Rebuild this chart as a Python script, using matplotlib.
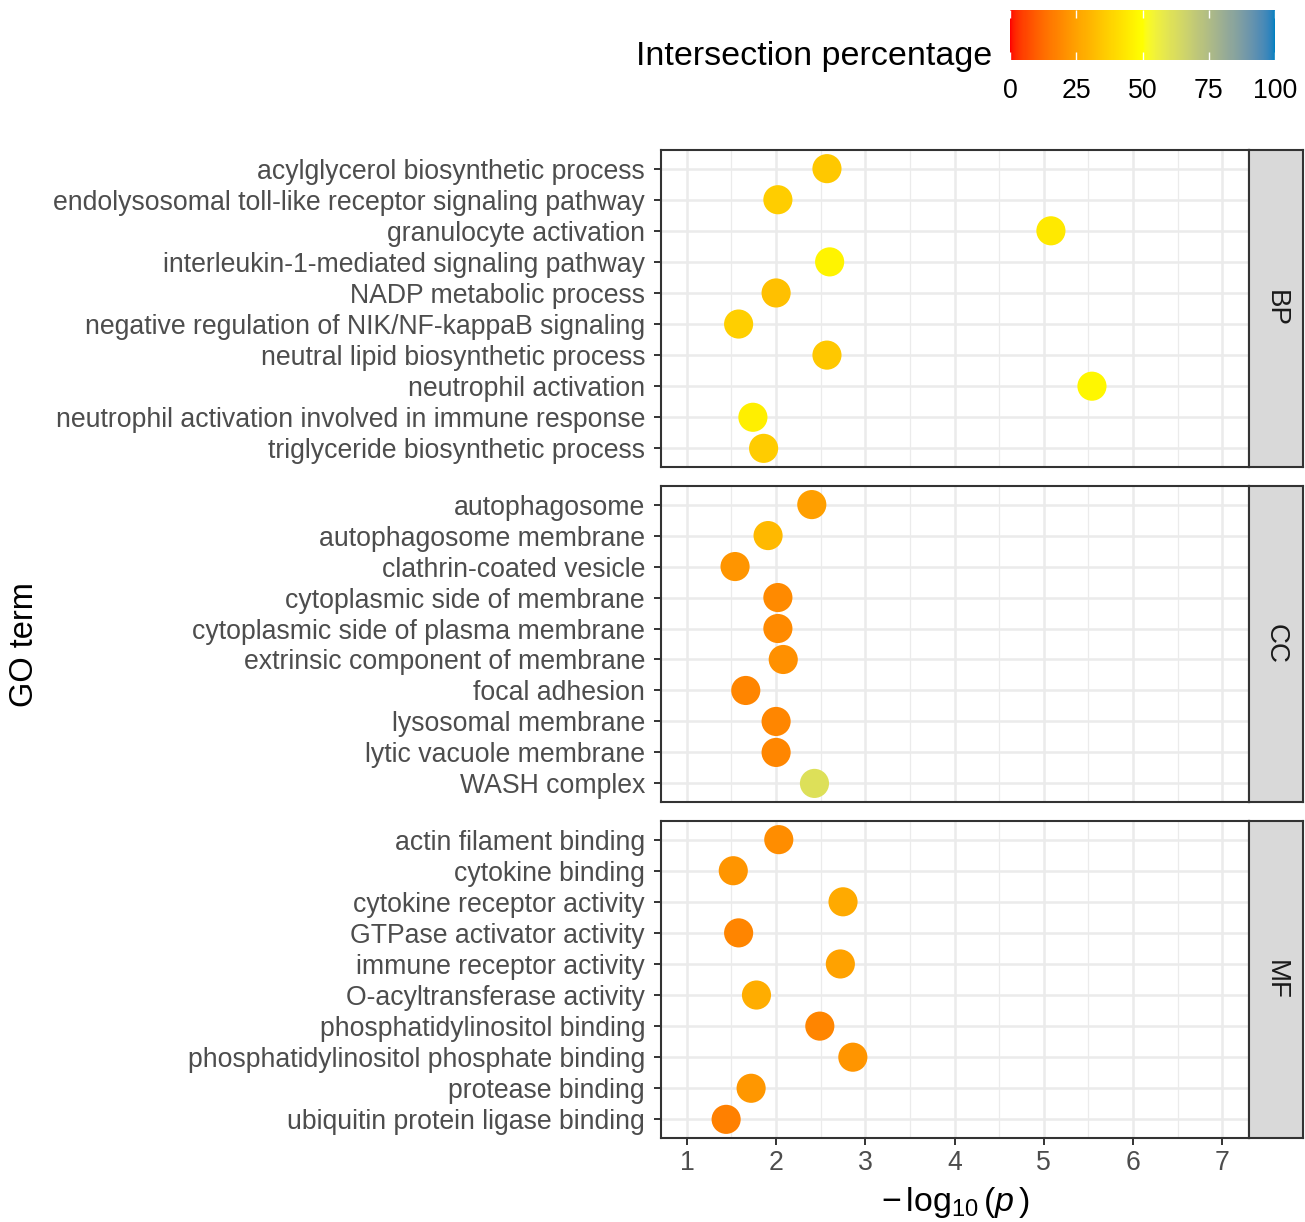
import numpy as np
import matplotlib
matplotlib.use("Agg")
import matplotlib.pyplot as plt
from matplotlib.colors import ListedColormap, Normalize, to_rgb
from matplotlib.cm import ScalarMappable

plt.rcParams['font.family'] = ['Liberation Sans', 'DejaVu Sans']
plt.rcParams['mathtext.fontset'] = 'custom'
plt.rcParams['mathtext.rm'] = 'Liberation Sans'
plt.rcParams['mathtext.it'] = 'Liberation Sans:italic'

# ---------------- data ----------------
bp_terms = ["acylglycerol biosynthetic process",
            "endolysosomal toll-like receptor signaling pathway",
            "granulocyte activation",
            "interleukin-1-mediated signaling pathway",
            "NADP metabolic process",
            "negative regulation of NIK/NF-kappaB signaling",
            "neutral lipid biosynthetic process",
            "neutrophil activation",
            "neutrophil activation involved in immune response",
            "triglyceride biosynthetic process"]
bp_logp = [2.57, 2.02, 5.08, 2.60, 2.00, 1.58, 2.57, 5.54, 1.74, 1.86]
bp_pct = [35, 36.5, 44, 47, 33, 37, 35, 48, 45.5, 36]

cc_terms = ["autophagosome",
            "autophagosome membrane",
            "clathrin-coated vesicle",
            "cytoplasmic side of membrane",
            "cytoplasmic side of plasma membrane",
            "extrinsic component of membrane",
            "focal adhesion",
            "lysosomal membrane",
            "lytic vacuole membrane",
            "WASH complex"]
cc_logp = [2.40, 1.91, 1.54, 2.02, 2.02, 2.08, 1.66, 2.00, 2.00, 2.43]
cc_pct = [24.5, 31, 22, 19.5, 19.5, 21, 18, 18.5, 18.5, 61]

mf_terms = ["actin filament binding",
            "cytokine binding",
            "cytokine receptor activity",
            "GTPase activator activity",
            "immune receptor activity",
            "O-acyltransferase activity",
            "phosphatidylinositol binding",
            "phosphatidylinositol phosphate binding",
            "protease binding",
            "ubiquitin protein ligase binding"]
mf_logp = [2.03, 1.52, 2.75, 1.58, 2.72, 1.78, 2.49, 2.86, 1.72, 1.44]
mf_pct = [20, 22, 27, 18, 25, 28, 18, 22, 22.5, 17]

panels = [("BP", bp_terms, bp_logp, bp_pct),
          ("CC", cc_terms, cc_logp, cc_pct),
          ("MF", mf_terms, mf_logp, mf_pct)]

x_ticks = [1, 2, 3, 4, 5, 6, 7]
cbar_ticks = [0, 25, 50, 75, 100]
gradient_colors = ["#FF0000", "#FFFF00", "#0080C0"]

# ---------------- Lab-interpolated colormap (like ggplot gradientn) ----------------
_M = np.array([[0.4124564, 0.3575761, 0.1804375],
               [0.2126729, 0.7151522, 0.0721750],
               [0.0193339, 0.1191920, 0.9503041]])
_W = np.array([0.95047, 1.0, 1.08883])


def rgb2lab(rgb):
    c = np.asarray(rgb, float)
    lin = np.where(c <= 0.04045, c / 12.92, ((c + 0.055) / 1.055) ** 2.4)
    xyz = (_M @ lin) / _W
    f = np.where(xyz > 0.008856, np.cbrt(xyz), 7.787 * xyz + 16 / 116)
    return np.array([116 * f[1] - 16, 500 * (f[0] - f[1]), 200 * (f[1] - f[2])])


def lab2rgb(lab):
    L, a, b = lab
    fy = (L + 16) / 116
    fx = fy + a / 500
    fz = fy - b / 200
    f = np.array([fx, fy, fz])
    xyz = np.where(f ** 3 > 0.008856, f ** 3, (f - 16 / 116) / 7.787) * _W
    lin = np.linalg.solve(_M, xyz)
    lin = np.clip(lin, 0, 1)
    c = np.where(lin <= 0.0031308, 12.92 * lin, 1.055 * lin ** (1 / 2.4) - 0.055)
    return np.clip(c, 0, 1)


labs = [rgb2lab(to_rgb(c)) for c in gradient_colors]
nseg = len(labs) - 1
cols = []
for v in np.linspace(0, 1, 256):
    k = min(int(v * nseg), nseg - 1)
    t = v * nseg - k
    cols.append(lab2rgb(labs[k] * (1 - t) + labs[k + 1] * t))
cmap = ListedColormap(cols)
norm = Normalize(0, 100)

# ---------------- layout ----------------
W, H = 1305, 1222
fig = plt.figure(figsize=(W / 100, H / 100), dpi=100)


def box(x0, y0, x1, y1):
    return [x0 / W, 1 - y1 / H, (x1 - x0) / W, (y1 - y0) / H]


panel_y = [(150, 467), (486, 802), (821, 1138)]
px0, px1, sx1 = 661, 1249, 1303
dark = "#333333"
tick_col = "#4D4D4D"
fs_tick = 19.2

for idx, ((name, terms, logp, pct), (y0, y1)) in enumerate(zip(panels, panel_y)):
    ax = fig.add_axes(box(px0, y0, px1, y1))
    n = len(terms)
    ys = np.arange(n)[::-1] + 1
    ax.set_xticks(x_ticks)
    ax.set_xticks(np.arange(1.5, 7.0, 1.0), minor=True)
    ax.set_yticks(ys)
    ax.set_yticklabels(terms)
    ax.set_xlim(0.71, 7.30)
    ax.set_ylim(0.4, n + 0.6)
    ax.grid(which='major', color='#EBEBEB', linewidth=1.8, zorder=0)
    ax.grid(which='minor', axis='x', color='#EBEBEB', linewidth=0.9, zorder=0)
    ax.set_axisbelow(True)
    ax.tick_params(axis='both', which='major', length=5, width=1.4, color=dark,
                   labelcolor=tick_col, labelsize=fs_tick, pad=6.5)
    ax.tick_params(axis='x', which='major', pad=4)
    ax.tick_params(axis='both', which='minor', length=0)
    for s in ax.spines.values():
        s.set_color(dark)
        s.set_linewidth(1.5)
    ax.scatter(logp, ys, c=pct, cmap=cmap, norm=norm, s=440, linewidths=0, zorder=3)
    if idx < 2:
        ax.tick_params(axis='x', which='both', length=0, labelbottom=False)
    # strip
    sax = fig.add_axes(box(px1, y0, sx1, y1))
    sax.set_facecolor('#D9D9D9')
    sax.set_xticks([])
    sax.set_yticks([])
    for s in sax.spines.values():
        s.set_color(dark)
        s.set_linewidth(1.5)
    sax.text(0.5, 0.5, name, rotation=-90, ha='center', va='center',
             fontsize=20, color='#1A1A1A', transform=sax.transAxes)

# axis titles
fig.text(25 / W, 1 - 645 / H, "GO term", rotation=90, ha='center', va='center',
         fontsize=23.5, color='black')
fig.text(955 / W, 1 - 1203 / H, r"$-\,\log_{10}(p\,)$", ha='center', va='center',
         fontsize=24.5, color='black')

# colorbar legend
cax = fig.add_axes(box(1010, 10, 1275, 60))
cb = fig.colorbar(ScalarMappable(norm=norm, cmap=cmap), cax=cax, orientation='horizontal')
cb.outline.set_visible(False)
cb.set_ticks(cbar_ticks)
cax.tick_params(axis='x', which='both', direction='in', top=True, bottom=True,
                length=6, width=1, color='white', labelsize=fs_tick, labelcolor='black', pad=13)
cax.minorticks_off()
fig.text(992 / W, 1 - 57 / H, "Intersection percentage", ha='right', va='center',
         fontsize=24.5, color='black')

fig.savefig("out.png", dpi=100)
